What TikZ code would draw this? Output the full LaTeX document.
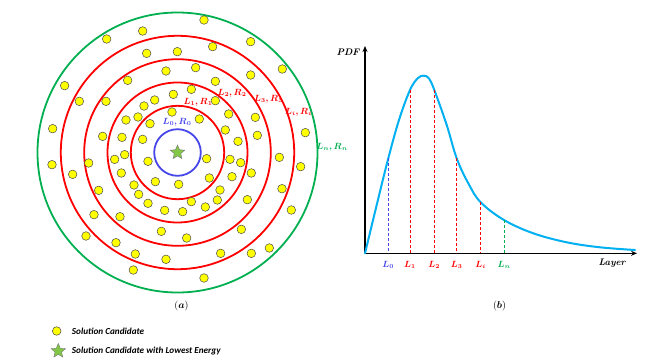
\documentclass[tikz,border=0pt]{standalone}
\usepackage{amsmath,bm}
\usepackage{fontspec}
\newfontfamily\legendfont{Carlito}
\usetikzlibrary{shapes.geometric,arrows.meta}
\definecolor{cred}{RGB}{255,0,0}
\definecolor{cgreen}{RGB}{0,176,80}
\definecolor{cblue}{RGB}{70,70,235}
\definecolor{ccyan}{RGB}{0,176,240}
\definecolor{dotyellow}{RGB}{255,255,0}
\definecolor{stargreen}{RGB}{130,200,70}
\begin{document}
\begin{tikzpicture}[x=1pt,y=-1pt,
  dot/.style={circle,draw=black!70,fill=dotyellow,line width=0.5pt,minimum size=8.6pt,inner sep=0pt},
  beststar/.style={star,star points=5,star point ratio=2.2,draw=black!55,fill=stargreen,line width=0.4pt,minimum size=15pt,inner sep=0pt},
  ringred/.style={draw=cred,line width=1.8pt},
  lab/.style={font=\fontsize{9}{10}\selectfont,inner sep=0pt},
  dashv/.style={dashed,line width=0.9pt,dash pattern=on 3pt off 2pt},
  axislab/.style={font=\fontsize{9.5}{10}\selectfont\bfseries\itshape,inner sep=0pt},
  legtext/.style={font=\legendfont\fontsize{9.2}{10}\selectfont\bfseries\itshape,anchor=west,inner sep=0pt}]
\useasboundingbox (0,0) rectangle (658,359);
% ---------- panel (a) ----------
\coordinate (C) at (177.5,152.5);
\draw[cgreen,line width=1.8pt] (C) circle[radius=140];
\draw[ringred] (C) circle[radius=116.7];
\draw[ringred] (C) circle[radius=93.3];
\draw[ringred] (C) circle[radius=70];
\draw[ringred] (C) circle[radius=46.7];
\draw[cblue,line width=1.8pt] (C) circle[radius=23.3];
\node[beststar] (best) at (C) {};
\begin{scope}[shift={(30,0)},scale=1/3]
\foreach \p [count=\i] in {(522,60),(338,93),(230,117),(662,125),(350,160),(442,155),(548,140),(757,207),(408,213),(497,203),(662,225),(104,257),(293,241),(556,244),(148,304),(228,304),(484,268),(556,302),(374,300),(430,283),(342,318),(426,336),(596,342),(676,352),(324,351),(288,360),(360,371),(508,357),(68,386),(218,409),(276,412),(338,418),(586,390),(624,424),(682,406),(826,398),(66,494),(176,489),(254,478),(284,464),(354,484),(530,476),(600,478),(632,488),(748,472),(812,500),(128,523),(274,519),(538,534),(606,530),(664,519),(376,545),(446,553),(312,555),(326,583),(570,570),(756,566),(206,571),(354,610),(404,631),(458,635),(484,605),(526,621),(562,600),(652,599),(784,630),(192,644),(270,650),(394,694),(470,714),(634,688),(168,708),(258,728),(316,762),(408,778),(572,760),(664,760),(718,744),(310,810),(522,834)}
  \node[dot] (d\i) at \p {};
\end{scope}
\node[lab,text=cblue] (l0) at (177,122.5) {$\boldsymbol{L_0, R_0}$};
\node[lab,text=cred] (l1) at (198,102.5) {$\boldsymbol{L_1, R_1}$};
\node[lab,text=cred] (l2) at (232,93.5) {$\boldsymbol{L_2, R_2}$};
\node[lab,text=cred] (l3) at (268.5,99) {$\boldsymbol{L_3, R_3}$};
\node[lab,text=cred] (li) at (298.5,112.5) {$\boldsymbol{L_i, R_i}$};
\node[lab,text=cgreen] (ln) at (332,147.5) {$\boldsymbol{L_n, R_n}$};
\node[lab,font=\fontsize{10}{11}\selectfont] (capa) at (181.5,306) {$(\boldsymbol{a})$};
% ---------- panel (b) ----------
\coordinate (O) at (365,253.3);
\coordinate (ytop) at (365,46);
\coordinate (xend) at (637,253.3);
\draw[line width=1.3pt,-{Stealth[length=6pt,width=5pt]}] (O) -- (ytop);
\draw[line width=1.3pt,-{Stealth[length=6pt,width=5pt]}] (O) -- (xend);
\node[axislab,anchor=east] (pdf) at (359.5,52) {PDF};
\node[axislab] (layer) at (612,263) {Layer};
\coordinate (p0) at (388.3,158.3);
\coordinate (p1) at (410,90);
\coordinate (p2) at (434.3,90);
\coordinate (p3) at (456.7,158.3);
\coordinate (pi) at (480.7,202.3);
\coordinate (pn) at (504,220);
\draw[ccyan,line width=2pt,line cap=round] plot[smooth,tension=0.6] coordinates {(365,253.3) (376.7,205) (388.3,158.3) (399,120) (410,90) (418,78) (424,75.7) (429,78.5) (434.3,90) (446.7,125) (456.7,158.3) (468.3,183.3) (480.7,202.3) (504,220) (533.3,233.3) (566.7,242.3) (600,247.3) (635,250)};
\draw[dashv,cblue] (p0) -- (p0 |- O);
\draw[dashv,cred] (p1) -- (p1 |- O);
\draw[dashv,cred] (p2) -- (p2 |- O);
\draw[dashv,cred] (p3) -- (p3 |- O);
\draw[dashv,cred] (pi) -- (pi |- O);
\draw[dashv,cgreen] (pn) -- (pn |- O);
\node[lab,text=cblue] (x0) at (388.3,265) {$\boldsymbol{L_0}$};
\node[lab,text=cred] (x1) at (410,265) {$\boldsymbol{L_1}$};
\node[lab,text=cred] (x2) at (434.3,265) {$\boldsymbol{L_2}$};
\node[lab,text=cred] (x3) at (456.7,265) {$\boldsymbol{L_3}$};
\node[lab,text=cred] (xi) at (480.7,265) {$\boldsymbol{L_i}$};
\node[lab,text=cgreen] (xn) at (504,265) {$\boldsymbol{L_n}$};
\node[lab,font=\fontsize{10}{11}\selectfont] (capb) at (499.5,305.5) {$(\boldsymbol{b})$};
% ---------- legend ----------
\node[dot] (legdot) at (56.7,331) {};
\node[legtext] (legt1) at (71.7,331) {Solution Candidate};
\node[beststar] (legstar) at (58.3,351) {};
\node[legtext] (legt2) at (71.7,351) {Solution Candidate with Lowest Energy};
\end{tikzpicture}
\end{document}
